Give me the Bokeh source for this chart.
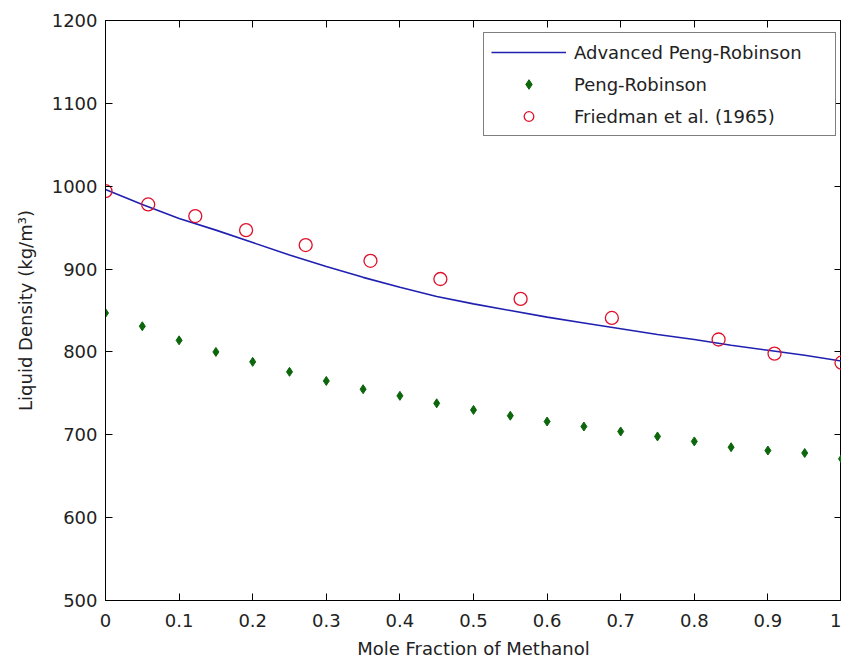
from bokeh.plotting import figure
from bokeh.models import Range1d, LinearAxis, FixedTicker, Legend, LegendItem
from bokeh.embed import file_html
from bokeh.resources import INLINE

# Advanced Peng-Robinson (smooth curve)
adv_x = [0.0, 0.05, 0.1, 0.15, 0.2, 0.25, 0.3, 0.35, 0.4, 0.45, 0.5,
         0.55, 0.6, 0.65, 0.7, 0.75, 0.8, 0.85, 0.9, 0.95, 1.0]
adv_y = [996, 978, 961, 947, 932, 917, 903, 890, 878, 867, 858,
         850, 842, 835, 828, 821, 815, 808, 802, 796, 789]

# Peng-Robinson
pr_x = [0.0, 0.05, 0.1, 0.15, 0.2, 0.25, 0.3, 0.35, 0.4, 0.45, 0.5,
        0.55, 0.6, 0.65, 0.7, 0.75, 0.8, 0.85, 0.9, 0.95, 1.0]
pr_y = [847, 831, 814, 800, 788, 776, 765, 755, 747, 738, 730,
        723, 716, 710, 704, 698, 692, 685, 681, 678, 671]

# Friedman et al. (1965) experimental data
fr_x = [0.0, 0.058, 0.122, 0.191, 0.272, 0.36, 0.455, 0.564, 0.688, 0.833, 0.909, 1.0]
fr_y = [994, 978, 964, 947, 929, 910, 888, 864, 841, 815, 798, 787]

x_ticks = [0.0, 0.1, 0.2, 0.3, 0.4, 0.5, 0.6, 0.7, 0.8, 0.9, 1.0]
x_tick_labels = ["0", "0.1", "0.2", "0.3", "0.4", "0.5", "0.6", "0.7", "0.8", "0.9", "1"]
y_ticks = [500, 600, 700, 800, 900, 1000, 1100, 1200]
y_tick_labels = ["500", "600", "700", "800", "900", "1000", "1100", "1200"]

FONT = "DejaVu Sans"
FS = "18px"
TXT = "#222222"

p = figure(width=841, height=663,
           x_range=Range1d(0, 1), y_range=Range1d(500, 1200),
           output_backend="svg", toolbar_location=None,
           min_border_left=105, min_border_top=20,
           min_border_right=0, min_border_bottom=63)
p.background_fill_color = "white"
p.border_fill_color = "white"
p.outline_line_color = "black"
p.outline_line_width = 1
p.xgrid.visible = False
p.ygrid.visible = False


def style_axis(ax, ticks, labels, show_labels=True):
    ax.ticker = FixedTicker(ticks=ticks)
    ax.axis_line_color = "black"
    ax.major_tick_line_color = "black"
    ax.major_tick_in = 7
    ax.major_tick_out = 0
    ax.minor_tick_line_color = None
    ax.major_label_text_font = FONT
    ax.major_label_text_color = TXT
    ax.major_label_text_font_size = FS
    if show_labels:
        ax.major_label_overrides = {t: l for t, l in zip(ticks, labels)}
    else:
        ax.major_label_overrides = {t: "" for t in ticks}
        ax.major_label_standoff = 0


xa = p.xaxis[0]
ya = p.yaxis[0]
style_axis(xa, x_ticks, x_tick_labels)
style_axis(ya, y_ticks, y_tick_labels)
xa.major_label_standoff = 13
ya.major_label_standoff = 8
xa.axis_label = "Mole Fraction of Methanol"
ya.axis_label = "Liquid Density (kg/m\u00b3)"
for ax in (xa, ya):
    ax.axis_label_text_font = FONT
    ax.axis_label_text_font_size = FS
    ax.axis_label_text_font_style = "normal"
    ax.axis_label_text_color = TXT
xa.axis_label_standoff = 8
ya.axis_label_standoff = 13

top = LinearAxis()
style_axis(top, x_ticks, x_tick_labels, show_labels=False)
p.add_layout(top, "above")
right = LinearAxis()
style_axis(right, y_ticks, y_tick_labels, show_labels=False)
p.add_layout(right, "right")

r_adv = p.line(adv_x, adv_y, line_color="#2020b0", line_width=1.6)
r_pr = p.scatter(pr_x, pr_y, marker="diamond", size=9,
                 fill_color="#0c660c", line_color="#0c660c")
r_fr = p.scatter(fr_x, fr_y, marker="circle", size=13, fill_color=None,
                 line_color="#e0102a", line_width=1.3)

legend = Legend(items=[
    LegendItem(label="Advanced Peng-Robinson", renderers=[r_adv]),
    LegendItem(label="Peng-Robinson", renderers=[r_pr]),
    LegendItem(label="Friedman et al. (1965)", renderers=[r_fr]),
], location=(378, 464))
legend.border_line_color = "black"
legend.border_line_width = 1
legend.background_fill_color = "white"
legend.background_fill_alpha = 1
legend.padding = 7
legend.margin = 0
legend.spacing = 8
legend.glyph_width = 75
legend.glyph_height = 24
legend.label_height = 24
legend.label_width = 254
legend.label_standoff = 8
legend.label_text_font = FONT
legend.label_text_font_size = FS
legend.label_text_color = TXT
p.add_layout(legend)

open("out.html", "w").write(file_html(p, INLINE))
